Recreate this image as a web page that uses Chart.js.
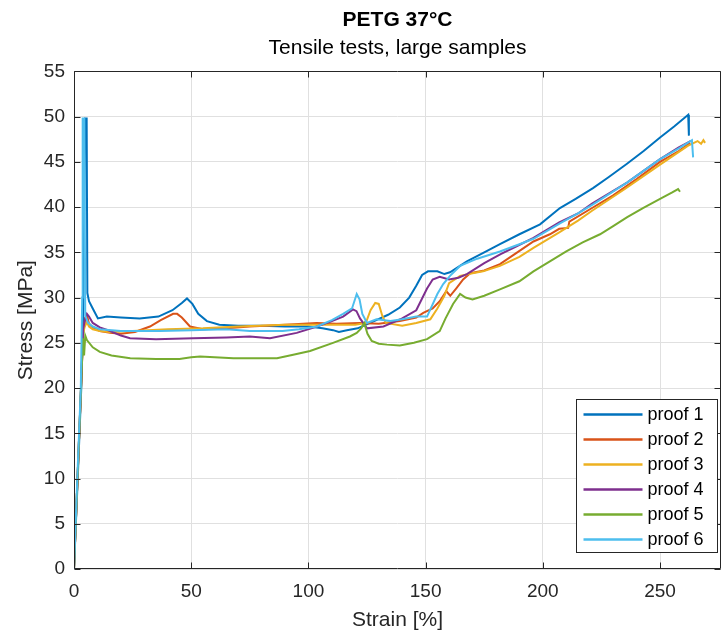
<!DOCTYPE html>
<html>
<head>
<meta charset="utf-8">
<script src="https://cdn.jsdelivr.net/npm/chart.js@4.4.0/dist/chart.umd.min.js"></script>
<style>
  html, body { margin: 0; padding: 0; background: #fff; }
  #wrap { width: 724px; height: 635px; }
</style>
</head>
<body>
<div id="wrap"><canvas id="chart" width="724" height="635"></canvas></div>
<script>
const proofNames = ['proof 1', 'proof 2', 'proof 3', 'proof 4', 'proof 5', 'proof 6'];
const lineColors = ['#0072BD', '#D95319', '#EDB120', '#7E2F8E', '#77AC30', '#4DBEEE'];

const strain1 = [0, 1.6, 3.1, 3.9, 4.4, 4.7, 5.4, 5.7, 6.4, 8.0, 10.2, 14, 20, 28, 36, 42, 46, 48.2, 50.5, 53, 56.7, 62, 70, 80, 90, 100, 106, 110.5, 113, 116.4, 121, 128, 134, 139, 143, 146, 148.5, 151, 155, 158, 160.4, 164, 167.6, 175, 181.7, 190, 198.8, 207.3, 214, 221.4, 228, 235.9, 243, 250, 256, 262, 262.3];
const stress1 = [0, 10, 20, 28, 40, 49.8, 49.8, 30.5, 29.6, 28.8, 27.7, 27.9, 27.8, 27.7, 27.9, 28.6, 29.4, 29.9, 29.3, 28.2, 27.4, 27.0, 26.9, 26.9, 26.8, 26.8, 26.6, 26.4, 26.2, 26.4, 26.6, 27.4, 28.1, 28.9, 30.0, 31.3, 32.5, 32.9, 32.9, 32.6, 32.8, 33.4, 34.0, 35.0, 35.9, 37.0, 38.1, 39.9, 40.9, 42.1, 43.3, 44.8, 46.2, 47.7, 48.9, 50.2, 47.9];

const strain2 = [0, 1.5, 3.0, 3.9, 4.8, 5.6, 6.4, 8, 11, 15.4, 20, 26, 32.4, 37, 42.3, 44, 46, 49.5, 55, 65, 75, 90, 103.6, 112, 122, 130, 139, 146, 149, 153, 156, 158.8, 160.5, 163, 166, 169, 175, 181.7, 188, 196, 203, 207, 210.8, 211.3, 221, 230, 240, 250, 258, 262.8];
const stress2 = [0, 10, 20, 26, 27.8, 28.0, 27.1, 26.7, 26.3, 26.1, 26.0, 26.2, 26.8, 27.5, 28.2, 28.2, 27.8, 26.8, 26.5, 26.6, 26.8, 27.0, 27.2, 27.1, 27.2, 27.1, 27.4, 27.8, 28.3, 28.8, 29.6, 30.7, 30.2, 31.0, 32.0, 32.7, 33.0, 33.7, 34.8, 36.2, 37.0, 37.6, 37.7, 38.4, 39.9, 41.3, 43.1, 45.0, 46.2, 47.1];

const strain3 = [0, 1.5, 3.0, 3.8, 4.6, 5.5, 6.4, 8, 11, 15, 25, 40, 55, 70, 90, 110, 120, 124.5, 126.5, 128.5, 130, 131.5, 133, 140, 146, 152, 155, 158, 160, 164.7, 170, 174.5, 181.7, 190, 196, 207, 215, 221, 235, 250, 262, 266, 267.5, 268.5, 269.2];
const stress3 = [0, 10, 20, 26, 26.8, 27.3, 26.8, 26.5, 26.3, 26.2, 26.3, 26.5, 26.6, 26.8, 27.0, 27.0, 27.0, 27.2, 28.6, 29.4, 29.3, 28.0, 27.2, 26.9, 27.2, 27.6, 28.8, 30.2, 31.6, 32.4, 32.7, 32.9, 33.5, 34.5, 35.5, 37.2, 38.5, 39.6, 42.0, 44.7, 46.8, 47.3, 47.0, 47.4, 47.1];

const strain4 = [0, 1.5, 3.0, 3.9, 4.7, 5.5, 6.4, 8, 11, 15.4, 20, 23.9, 35, 50.8, 65, 75, 83.6, 95, 103.6, 110, 114.8, 119, 120.5, 122, 125, 132, 140, 146, 150.6, 153, 156, 160, 164, 167.6, 175, 182, 189, 196, 207, 215, 221, 235.9, 250, 258, 263];
const stress4 = [0, 10, 20, 26.5, 27.6, 28.2, 27.9, 27.2, 26.7, 26.3, 25.8, 25.5, 25.4, 25.5, 25.6, 25.7, 25.5, 26.1, 26.8, 27.4, 27.9, 28.7, 28.5, 27.7, 26.6, 26.8, 27.7, 28.6, 31.0, 32.0, 32.3, 32.0, 32.2, 32.6, 33.8, 34.8, 35.7, 36.6, 38.3, 39.3, 40.4, 42.7, 45.3, 46.6, 47.3];

const strain5 = [0, 1.5, 3.0, 3.8, 4.3, 4.8, 5.5, 8, 11, 16, 24, 35, 45, 50, 53.8, 60, 68, 78, 86.6, 94, 100.7, 110.5, 117.7, 120.6, 122.5, 123.8, 125.2, 127, 130, 133.5, 139, 145, 150.6, 156, 158.5, 161.7, 164.7, 167, 170, 175, 181.7, 190, 196, 203, 210, 217, 224.4, 230, 236, 242.7, 250, 255, 257.7, 258.5];
const stress5 = [0, 10, 20, 25.5, 23.6, 25.8, 25.3, 24.5, 24.0, 23.6, 23.3, 23.2, 23.2, 23.4, 23.5, 23.4, 23.3, 23.3, 23.3, 23.7, 24.1, 25.0, 25.7, 26.1, 26.6, 27.2, 26.0, 25.2, 24.9, 24.8, 24.7, 25.0, 25.4, 26.3, 27.7, 29.3, 30.4, 30.0, 29.8, 30.2, 30.9, 31.8, 32.9, 34.0, 35.1, 36.1, 37.0, 37.9, 38.9, 39.9, 40.9, 41.6, 42.0, 41.7];

const strain6 = [0, 1.4, 2.9, 3.5, 3.7, 4.4, 4.8, 6, 8, 11, 20, 36.7, 50, 65, 75, 89, 96, 103.6, 110, 114.8, 118.6, 120.6, 121.8, 123, 125, 129, 135, 140, 146, 150.6, 155, 157.5, 160.4, 164.7, 172, 181.7, 190, 196, 207.3, 215, 221.4, 235.9, 250, 258, 263.6, 264.1];
const stress6 = [0, 10, 20, 30, 49.8, 49.8, 28, 27.2, 26.8, 26.5, 26.3, 26.3, 26.4, 26.5, 26.3, 26.3, 26.5, 26.8, 27.5, 28.2, 28.8, 30.4, 29.8, 28.2, 27.2, 27.6, 27.4, 27.6, 27.9, 27.9, 30.4, 31.5, 32.4, 33.5, 34.3, 35.1, 35.9, 36.5, 38.2, 39.3, 40.3, 42.7, 45.3, 46.5, 47.4, 45.5];

const strainMax = 276;
const stressMax = 55;

const series = [
  [strain1, stress1], [strain2, stress2], [strain3, stress3],
  [strain4, stress4], [strain5, stress5], [strain6, stress6]
];

function toPoints(xs, ys) {
  return xs.map((x, i) => ({ x: x, y: ys[i] }));
}

const FONT = 'Liberation Sans, Arial, Helvetica, sans-serif';
const AXIS = '#262626';

// matlab style box, inward ticks and legend inside the axes
const matlabBox = {
  id: 'matlabBox',
  afterDraw(chart) {
    const ctx = chart.ctx;
    const a = chart.chartArea;
    const sx = chart.scales.x, sy = chart.scales.y;
    ctx.save();
    ctx.strokeStyle = AXIS;
    ctx.lineWidth = 1;
    const L = Math.round(a.left) + 0.5, R = Math.round(a.right) - 0.5;
    const T = Math.round(a.top) + 0.5, B = Math.round(a.bottom) - 0.5;
    ctx.beginPath();
    ctx.rect(L, T, R - L, B - T);
    sx.ticks.forEach(t => {
      const px = Math.round(sx.getPixelForValue(t.value)) + 0.5;
      ctx.moveTo(px, B); ctx.lineTo(px, B - 6);
      ctx.moveTo(px, T); ctx.lineTo(px, T + 6);
    });
    sy.ticks.forEach(t => {
      const py = Math.round(sy.getPixelForValue(t.value)) + 0.5;
      ctx.moveTo(L, py); ctx.lineTo(L + 6, py);
      ctx.moveTo(R, py); ctx.lineTo(R - 6, py);
    });
    ctx.stroke();

    // legend
    const w = 141, h = 153;
    const lx = Math.round(a.right - 4 - w) + 0.5;
    const ly = Math.round(a.bottom - 17 - h) + 0.5;
    ctx.fillStyle = '#fff';
    ctx.fillRect(lx, ly, w, h);
    ctx.strokeStyle = AXIS;
    ctx.strokeRect(lx, ly, w, h);
    ctx.font = '18px ' + FONT;
    ctx.textBaseline = 'middle';
    ctx.textAlign = 'left';
    proofNames.forEach((name, i) => {
      const y = ly + 15 + i * 25;
      ctx.strokeStyle = lineColors[i];
      ctx.lineWidth = 2.6;
      ctx.beginPath();
      ctx.moveTo(lx + 7, y); ctx.lineTo(lx + 66, y);
      ctx.stroke();
      ctx.fillStyle = '#000';
      ctx.fillText(name, lx + 71, y + 1);
    });
    ctx.restore();
  }
};

new Chart(document.getElementById('chart').getContext('2d'), {
  type: 'scatter',
  data: {
    datasets: series.map((s, i) => ({
      label: proofNames[i],
      data: toPoints(s[0], s[1]),
      showLine: true,
      borderColor: lineColors[i],
      backgroundColor: lineColors[i],
      borderWidth: 2,
      pointRadius: 0,
      tension: 0,
      order: 5 - i
    }))
  },
  options: {
    responsive: false,
    animation: false,
    devicePixelRatio: 1,
    events: [],
    layout: { padding: { left: 0, right: 3, top: 0, bottom: 0 } },
    scales: {
      x: {
        type: 'linear',
        min: 0,
        max: strainMax,
        grid: { color: '#e0e0e0', drawTicks: false },
        border: { display: false },
        ticks: {
          stepSize: 50,
          includeBounds: false,
          padding: 11,
          color: AXIS,
          font: { family: FONT, size: 19 }
        },
        title: {
          display: true,
          text: 'Strain [%]',
          color: AXIS,
          font: { family: FONT, size: 21 },
          padding: { top: 0, bottom: 2 }
        },
        afterFit: s => { s.height = 66; }
      },
      y: {
        min: 0,
        max: stressMax,
        grid: { color: '#e0e0e0', drawTicks: false },
        border: { display: false },
        ticks: {
          stepSize: 5,
          padding: 9,
          color: AXIS,
          font: { family: FONT, size: 19 }
        },
        title: {
          display: true,
          text: 'Stress [MPa]',
          color: AXIS,
          font: { family: FONT, size: 21 },
          padding: { top: 14, bottom: 0 }
        },
        afterFit: s => { s.width = 74; }
      }
    },
    plugins: {
      legend: { display: false },
      tooltip: { enabled: false },
      title: {
        display: true,
        fullSize: false,
        text: 'PETG 37°C',
        color: '#000',
        font: { family: FONT, size: 21, weight: 'bold' },
        padding: { top: 8, bottom: 0 }
      },
      subtitle: {
        display: true,
        fullSize: false,
        text: 'Tensile tests, large samples',
        color: '#000',
        font: { family: FONT, size: 21 },
        padding: { top: 2, bottom: 11 }
      }
    }
  },
  plugins: [matlabBox]
});
</script>
</body>
</html>
